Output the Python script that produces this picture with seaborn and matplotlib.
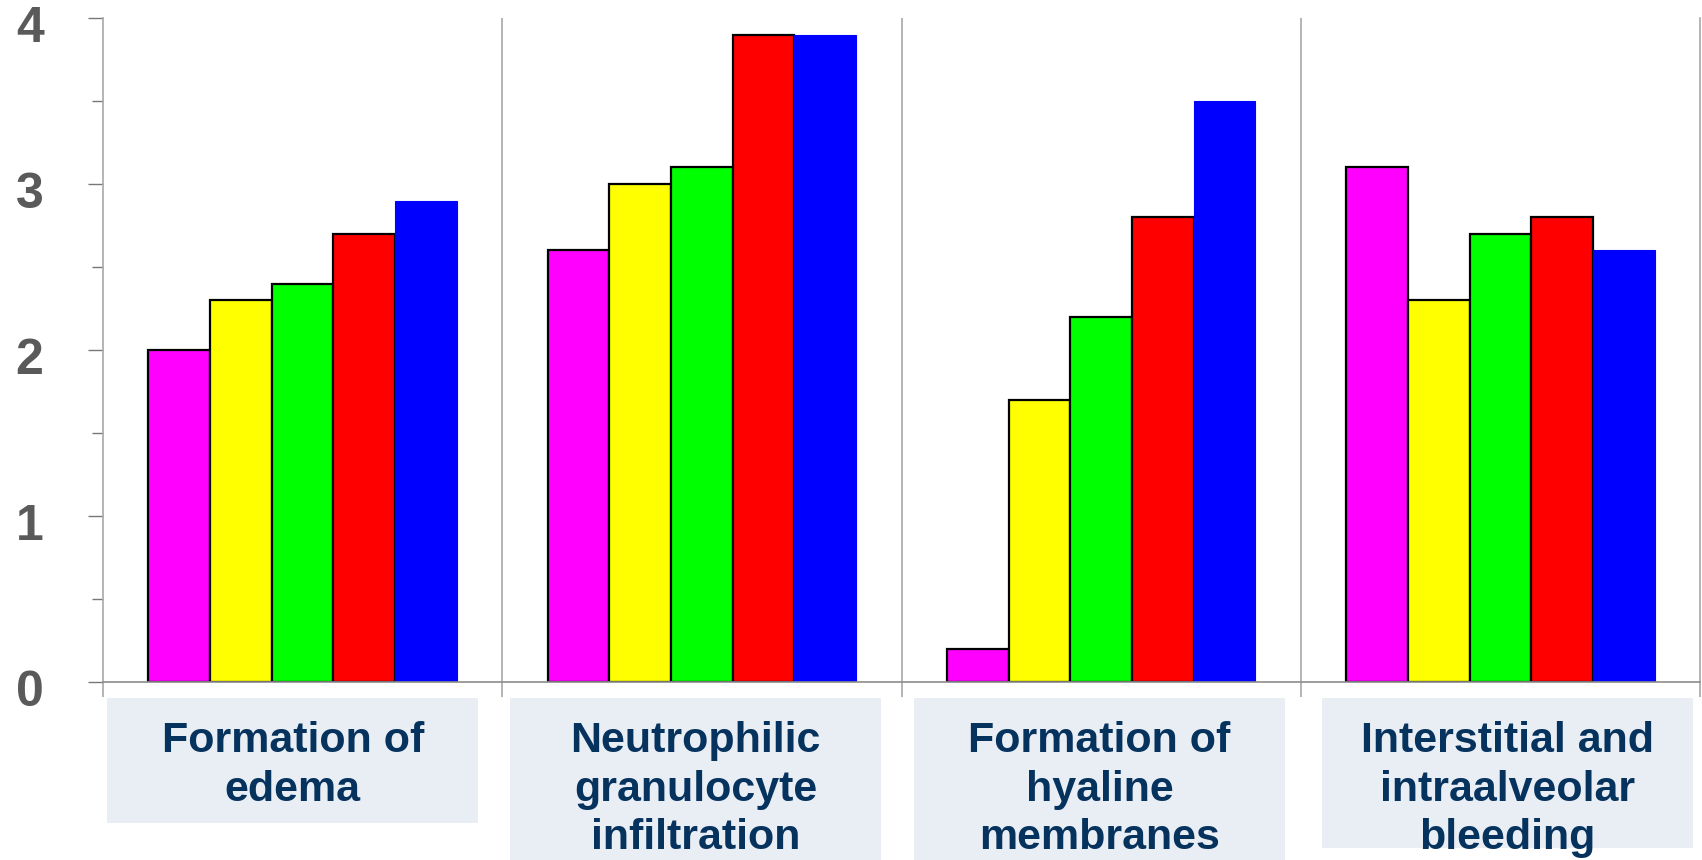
import numpy as np
import pandas as pd
import seaborn as sns
import matplotlib.pyplot as plt
import matplotlib.transforms as mtrans
from matplotlib.patches import Rectangle
from matplotlib.ticker import MultipleLocator

# ---- data -------------------------------------------------------------
categories = [
    "Formation of\nedema",
    "Neutrophilic\ngranulocyte\ninfiltration",
    "Formation of\nhyaline\nmembranes",
    "Interstitial and\nintraalveolar\nbleeding",
]
series_names = ["Series 1", "Series 2", "Series 3", "Series 4", "Series 5"]
series_1 = [2.0, 2.6, 0.2, 3.1]
series_2 = [2.3, 3.0, 1.7, 2.3]
series_3 = [2.4, 3.1, 2.2, 2.7]
series_4 = [2.7, 3.9, 2.8, 2.8]
series_5 = [2.9, 3.9, 3.5, 2.6]
y_tick_values = [0, 1, 2, 3, 4]

series_colors = ["#FF00FF", "#FFFF00", "#00FF00", "#FF0000", "#0000FF"]

rows = []
for name, values in zip(series_names,
                        [series_1, series_2, series_3, series_4, series_5]):
    for cat, v in zip(categories, values):
        rows.append({"category": cat, "series": name, "score": v})
df = pd.DataFrame(rows)

# ---- style ------------------------------------------------------------
sns.set_theme(style="white")
plt.rcParams["font.family"] = ["Liberation Sans", "DejaVu Sans"]

W, H = 1702, 860
fig = plt.figure(figsize=(W / 100, H / 100), dpi=100)
ax = fig.add_axes([103 / W, (H - 682) / H, (1700 - 103) / W, 664 / H])

sns.barplot(
    data=df, x="category", y="score", hue="series",
    order=categories, hue_order=series_names,
    palette=series_colors, saturation=1, width=0.773,
    edgecolor="black", linewidth=1.6, legend=False, ax=ax,
)
# the last series is drawn without the black outline
for patch in ax.containers[-1]:
    patch.set_edgecolor(series_colors[-1])
    patch.set_linewidth(0.8)

ax.set_xlim(-0.5, len(categories) - 0.5)
ax.set_ylim(0, 4)
ax.set_xlabel("")
ax.set_ylabel("")

grey = "#8C8C8C"
light_grey = "#A8A8A8"

# separators between the categories
bounds = np.arange(len(categories) + 1) - 0.5
ax.vlines(bounds[1:-1], 0, 4, colors=light_grey, linewidth=1.2, zorder=0)
ax.set_xticks(bounds)
ax.tick_params(axis="x", length=10.8, width=1.2, color=light_grey,
               labelbottom=False, direction="out", bottom=True)

for side in ["left", "right"]:
    ax.spines[side].set_color(light_grey)
    ax.spines[side].set_linewidth(1.2)
ax.spines["bottom"].set_color(grey)
ax.spines["bottom"].set_linewidth(1.2)
ax.spines["top"].set_visible(False)

ax.set_yticks(y_tick_values)
ax.yaxis.set_minor_locator(MultipleLocator(0.5))
ax.tick_params(axis="y", which="major", length=10.8, width=1.0, color="#777777",
               direction="out", left=True, pad=32, labelsize=36,
               labelcolor="#5A5A5A")
ax.tick_params(axis="y", which="minor", length=8, width=1.0, color="#777777",
               direction="out", left=True)
shift = mtrans.ScaledTranslation(0, -6 / 100, fig.dpi_scale_trans)
for lab in ax.get_yticklabels():
    lab.set_fontweight("bold")
    lab.set_transform(lab.get_transform() + shift)

# category captions in shaded boxes below the axis
blend = mtrans.blended_transform_factory(ax.transData, ax.transAxes)
box_top = -0.024
box_lefts = [-0.49, -0.481, -0.469, -0.447]
box_width = 0.93
box_bottoms = [-0.2123, -0.27, -0.27, -0.25]
text_centers = [-0.126, -0.162, -0.162, -0.162]
for i, cat in enumerate(categories):
    x0 = i + box_lefts[i]
    ax.add_patch(Rectangle((x0, box_bottoms[i]), box_width,
                           box_top - box_bottoms[i], transform=blend,
                           facecolor="#E9EEF5", edgecolor="none",
                           clip_on=False, zorder=0))
    ax.text(x0 + box_width / 2, text_centers[i], cat, transform=blend,
            ha="center", va="center", fontsize=31, fontweight="bold",
            color="#06325E", linespacing=1.28, clip_on=False)

fig.savefig("out.png", dpi=100, facecolor="white")
